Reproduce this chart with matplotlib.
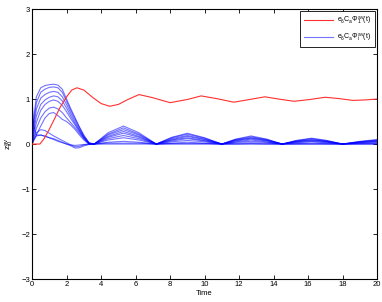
import matplotlib
matplotlib.use("Agg")
import matplotlib.pyplot as plt

plt.rcParams['font.family'] = ['Liberation Sans', 'DejaVu Sans']
plt.rcParams['mathtext.fontset'] = 'custom'
plt.rcParams['mathtext.rm'] = 'Liberation Sans'
plt.rcParams['mathtext.it'] = 'Liberation Sans'
plt.rcParams['mathtext.bf'] = 'Liberation Sans:bold'

# Red series: e6 Ca Phi_1^av(t)
red_t = [0, 0.45, 0.7, 1.0, 1.3, 1.6, 2.0, 2.3, 2.6, 3.0, 3.5, 4.0, 4.5, 5.0, 5.5, 6.2,
         7.0, 8.0, 9.0, 9.8, 10.7, 11.7, 12.6, 13.5, 14.3, 15.2, 16.1, 17.0, 17.8, 18.6, 19.3, 20.0]
red_v = [0, 0, 0.12, 0.33, 0.56, 0.8, 1.05, 1.2, 1.25, 1.2, 1.04, 0.9, 0.84, 0.88, 0.98, 1.1,
         1.03, 0.92, 0.99, 1.07, 1.01, 0.93, 0.99, 1.05, 1.0, 0.95, 0.99, 1.04, 1.01, 0.97, 0.98, 1.0]

# Blue series: e6 Ca Phi_i^av(t), shared time grid
blue_t = [0, 0.1, 0.25, 0.5, 0.75, 1.0, 1.25, 1.5, 1.75, 2.0, 2.25, 2.5, 2.75, 3.0, 3.3, 3.6,
          4.4, 5.3, 6.2, 7.2, 8.1, 9.0, 10.0, 11.0, 11.8, 12.7, 13.6, 14.5, 15.3, 16.2, 17.1, 18.0, 19.0, 20.0]
blue_1 = [0, 0.6, 1.05, 1.25, 1.3, 1.32, 1.33, 1.31, 1.22, 1.0, 0.78, 0.58, 0.38, 0.2, 0.03, 0.0,
          0.25, 0.40, 0.25, 0, 0.15, 0.24, 0.14, 0, 0.11, 0.18, 0.11, 0, 0.08, 0.13, 0.08, 0, 0.06, 0.10]
blue_2 = [0, 0.5, 0.92, 1.15, 1.22, 1.26, 1.27, 1.25, 1.15, 0.95, 0.74, 0.55, 0.36, 0.18, 0.02, 0.0,
          0.22, 0.36, 0.22, 0, 0.14, 0.22, 0.13, 0, 0.10, 0.16, 0.10, 0, 0.07, 0.12, 0.07, 0, 0.05, 0.09]
blue_3 = [0, 0.4, 0.78, 1.02, 1.1, 1.15, 1.17, 1.15, 1.05, 0.88, 0.68, 0.5, 0.32, 0.16, 0.02, 0.0,
          0.20, 0.32, 0.20, 0, 0.12, 0.19, 0.11, 0, 0.09, 0.14, 0.09, 0, 0.06, 0.10, 0.06, 0, 0.05, 0.08]
blue_4 = [0, 0.3, 0.62, 0.88, 0.98, 1.04, 1.07, 1.05, 0.96, 0.8, 0.62, 0.45, 0.3, 0.15, 0.02, 0.0,
          0.17, 0.28, 0.17, 0, 0.10, 0.17, 0.10, 0, 0.08, 0.13, 0.08, 0, 0.06, 0.09, 0.06, 0, 0.04, 0.07]
blue_5 = [0, 0.22, 0.48, 0.75, 0.88, 0.95, 0.98, 0.95, 0.86, 0.72, 0.56, 0.42, 0.27, 0.13, 0.01, 0.0,
          0.15, 0.24, 0.15, 0, 0.09, 0.14, 0.08, 0, 0.07, 0.11, 0.07, 0, 0.05, 0.08, 0.05, 0, 0.04, 0.06]
blue_6 = [0, 0.15, 0.35, 0.58, 0.72, 0.8, 0.82, 0.78, 0.7, 0.58, 0.47, 0.36, 0.24, 0.12, 0.0, 0.0,
          0.12, 0.19, 0.12, 0, 0.07, 0.12, 0.07, 0, 0.05, 0.09, 0.05, 0, 0.04, 0.06, 0.04, 0, 0.03, 0.05]
blue_7 = [0, 0.08, 0.2, 0.4, 0.58, 0.68, 0.7, 0.63, 0.55, 0.5, 0.42, 0.32, 0.2, 0.09, 0.0, 0.0,
          0.09, 0.14, 0.09, 0, 0.05, 0.08, 0.05, 0, 0.04, 0.06, 0.04, 0, 0.03, 0.05, 0.03, 0, 0.02, 0.035]
blue_8 = [0, 0.12, 0.25, 0.32, 0.3, 0.24, 0.18, 0.13, 0.08, 0.03, -0.02, -0.06, -0.05, -0.02, 0.0, 0.0,
          0.04, 0.06, 0.04, 0, 0.02, 0.04, 0.02, 0, 0.02, 0.03, 0.02, 0, 0.01, 0.02, 0.01, 0, 0.01, 0.015]
blue_9 = [1.0, 0.4, 0.2, 0.2, 0.17, 0.14, 0.12, 0.08, 0.04, 0.0, -0.04, -0.09, -0.08, -0.04, -0.01, 0.0,
          0.02, 0.02, 0.02, 0, 0.01, 0.01, 0.01, 0, 0, 0.01, 0, 0, 0, 0, 0, 0, 0, 0]
blue_10 = [0, 0.1, 0.18, 0.2, 0.18, 0.14, 0.1, 0.06, 0.03, 0.0, -0.02, -0.03, -0.02, -0.01, 0.0, 0.0,
           0, 0, 0, 0, 0, 0, 0, 0, 0, 0, 0, 0, 0, 0, 0, 0, 0, 0]
blue_series = [blue_1, blue_2, blue_3, blue_4, blue_5, blue_6, blue_7, blue_8, blue_9, blue_10]

x_ticks = [0, 2, 4, 6, 8, 10, 12, 14, 16, 18, 20]
y_ticks = [-3, -2, -1, 0, 1, 2, 3]
y_tick_labels = ['\u22123', '\u22122', '\u22121', '0', '1', '2', '3']

label_red = r'$e_6C_a\Phi_1^{av}(t)$'
label_blue = r'$e_6C_a\Phi_i^{av}(t)$'

fig = plt.figure(figsize=(3.82, 3.02), dpi=100)
ax = fig.add_axes([0.084, 0.076, 0.903, 0.894])

for i, s in enumerate(blue_series):
    ax.plot(blue_t, s, color='#0000ff', alpha=0.55, lw=0.8,
            label=label_blue if i == 0 else None, zorder=2)
ax.plot(red_t, red_v, color='#ff3030', lw=0.8, label=label_red, zorder=3)

ax.set_xlim(0, 20)
ax.set_ylim(-3, 3)
ax.set_xticks(x_ticks)
ax.set_yticks(y_ticks)
ax.set_yticklabels(y_tick_labels)
ax.tick_params(direction='in', length=3, width=0.6, labelsize=5.5, top=True, right=True, pad=1.5)
for sp in ax.spines.values():
    sp.set_linewidth(0.8)
ax.set_xlabel('Time', fontsize=5.5, labelpad=1)
ax.set_ylabel(r'$z_{t0}^{av}$', fontsize=6, labelpad=4)

handles, labels = ax.get_legend_handles_labels()
order = [labels.index(label_red), labels.index(label_blue)]
leg = ax.legend([handles[k] for k in order], [labels[k] for k in order],
                loc='upper right', fontsize=5, fancybox=False, framealpha=1,
                edgecolor='black', borderaxespad=0.35, handlelength=4.2,
                handletextpad=0.6, labelspacing=0.7, borderpad=0.5)
leg.get_frame().set_linewidth(0.6)

fig.savefig('out.png', dpi=100)
